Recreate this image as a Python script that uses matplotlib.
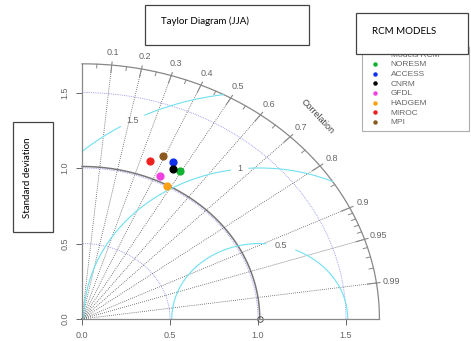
import numpy as np
import matplotlib.pyplot as plt
from matplotlib.patches import Rectangle

# model statistics (normalised standard deviation, correlation with obs)
models = ["NORESM", "ACCESS", "CNRM", "GFDL", "HADGEM", "MIROC", "MPI"]
sd = [1.125, 1.162, 1.119, 1.046, 1.005, 1.113, 1.171]
cor = [0.494, 0.446, 0.464, 0.424, 0.482, 0.347, 0.392]
colors = ["#10b030", "#1030f0", "#000000", "#f040e0", "#ffa010", "#f02020", "#8b5a20"]

ref_sd = 1.01
max_sd = 1.69
cor_ticks = [0.1, 0.2, 0.3, 0.4, 0.5, 0.6, 0.7, 0.8, 0.9, 0.95, 0.99]
sd_grid = [0.5, 1.0, 1.5]
rms_levels = [0.5, 1.0, 1.5]
rms_label_ang = [76, 96.5, 118.8]
rms_gap = [10, 3.0, 3.0]

plt.rcParams['font.family'] = ['Liberation Sans', 'DejaVu Sans']
grey = "#666666"

fig = plt.figure(figsize=(4.71, 3.41), dpi=100)
W, H = max_sd*176, max_sd*151
ax = fig.add_axes([82/471, 22/341, W/471, H/341])
ax.set_xlim(0, max_sd)
ax.set_ylim(0, max_sd)
for s in ["top", "right"]:
    ax.spines[s].set_visible(False)
for s in ["left", "bottom"]:
    ax.spines[s].set_color("#888888")
    ax.spines[s].set_linewidth(0.9)
ax.set_xticks([0, 0.5, 1.0, 1.5])
ax.set_xticklabels(["0.0", "0.5", "1.0", "1.5"])
ax.set_yticks([0, 0.5, 1.0, 1.5])
ax.set_yticklabels(["0.0", "0.5", "1.0", "1.5"], rotation=90, va="center")
ax.tick_params(colors=grey, labelsize=6.5, length=4, width=0.7, pad=5)

th = np.linspace(0, np.pi/2, 300)

# sd grid arcs
for r in sd_grid:
    ax.plot(r*np.cos(th), r*np.sin(th), color="#8c8cf0", ls=(0, (1, 1.2)), lw=0.6, clip_on=False)

# outer frame arc and reference arc
ax.plot(max_sd*np.cos(th), max_sd*np.sin(th), color="#888888", lw=0.9, clip_on=False)
ax.plot(ref_sd*np.cos(th), ref_sd*np.sin(th), color="#777777", lw=1.1, clip_on=False)

# correlation rays and labels
for c in cor_ticks:
    s = np.sqrt(1 - c*c)
    ax.plot([0, max_sd*c], [0, max_sd*s], color="#555555", ls=(0, (1, 1.5)), lw=0.6, clip_on=False)
    ax.plot([max_sd*c*0.97, max_sd*c*1.012], [max_sd*s*0.97, max_sd*s*1.012],
            color="#888888", lw=0.8, clip_on=False)
    ax.text(max_sd*1.05*c, max_sd*1.05*s, str(c), color=grey, fontsize=6.5,
            ha="center", va="center")
minor = [0.05, 0.15, 0.25, 0.35, 0.45, 0.55, 0.65, 0.75, 0.85,
         0.91, 0.92, 0.93, 0.94, 0.96, 0.97, 0.98]
for c in minor:
    s = np.sqrt(1 - c*c)
    ax.plot([max_sd*c*0.985, max_sd*c], [max_sd*s*0.985, max_sd*s],
            color="#888888", lw=0.7, clip_on=False)
ax.text(max_sd*1.12*np.cos(np.radians(45)), max_sd*1.12*np.sin(np.radians(45)),
        "Correlation", color="#444444", fontsize=6.5, rotation=-47,
        ha="center", va="center")

# centred RMS difference contours
for lev, ang, gap in zip(rms_levels, rms_label_ang, rms_gap):
    phi = np.radians(np.linspace(0, 180, 800))
    x = ref_sd + lev*np.cos(phi)
    y = lev*np.sin(phi)
    keep = (x >= 0) & (np.hypot(x, y) <= max_sd)
    d = np.degrees(phi)
    for part in [keep & (d < ang - gap), keep & (d > ang + gap)]:
        ax.plot(x[part], y[part], color="#70e0f0", lw=0.8, clip_on=False)
    lab = "1" if lev == 1.0 else str(lev)
    ax.text(ref_sd + lev*np.cos(np.radians(ang)), lev*np.sin(np.radians(ang)), lab,
            color=grey, fontsize=6.5, ha="center", va="center")

# reference point
ax.plot([ref_sd], [0], marker="o", ms=4, mfc="none", mec="#555555", mew=0.7, clip_on=False)

# model points
for m, s, c, col in zip(models, sd, cor, colors):
    ax.scatter(s*c, s*np.sqrt(1 - c*c), s=24, color=col, label=m, zorder=5, clip_on=False)

leg = ax.legend(loc="upper left", mode="expand",
                bbox_to_anchor=((362-82)/W, (319-130)/H, (469-362)/W, (130-47)/H),
                title="Models RCM", title_fontsize=6, fontsize=6, frameon=True,
                fancybox=False, edgecolor="#999999", markerscale=0.45,
                handletextpad=0.9, labelspacing=0.22, borderpad=0.55,
                borderaxespad=0)
leg.get_frame().set_linewidth(0.8)
for t in leg.get_texts():
    t.set_color(grey)
leg.get_title().set_color(grey)

# annotation boxes
def box(x0, y0, x1, y1, text, tx, ty, rot=0):
    fig.patches.append(Rectangle((x0/471, 1 - y1/341), (x1 - x0)/471, (y1 - y0)/341,
                                 transform=fig.transFigure, facecolor="white",
                                 edgecolor="#444444", lw=0.9, zorder=10))
    fig.text(tx/471, 1 - ty/341, text, fontsize=7, family=["Lato", "DejaVu Sans"],
             rotation=rot, ha="left" if rot == 0 else "center", va="center", zorder=11)

box(145, 5, 309, 45, "Taylor Diagram (JJA)", 161, 21)
box(356, 13, 468, 54, "RCM MODELS", 372, 32)
box(13, 122, 53, 232, "Standard deviation", 28, 178, rot=90)

fig.savefig("out.png", dpi=100)
